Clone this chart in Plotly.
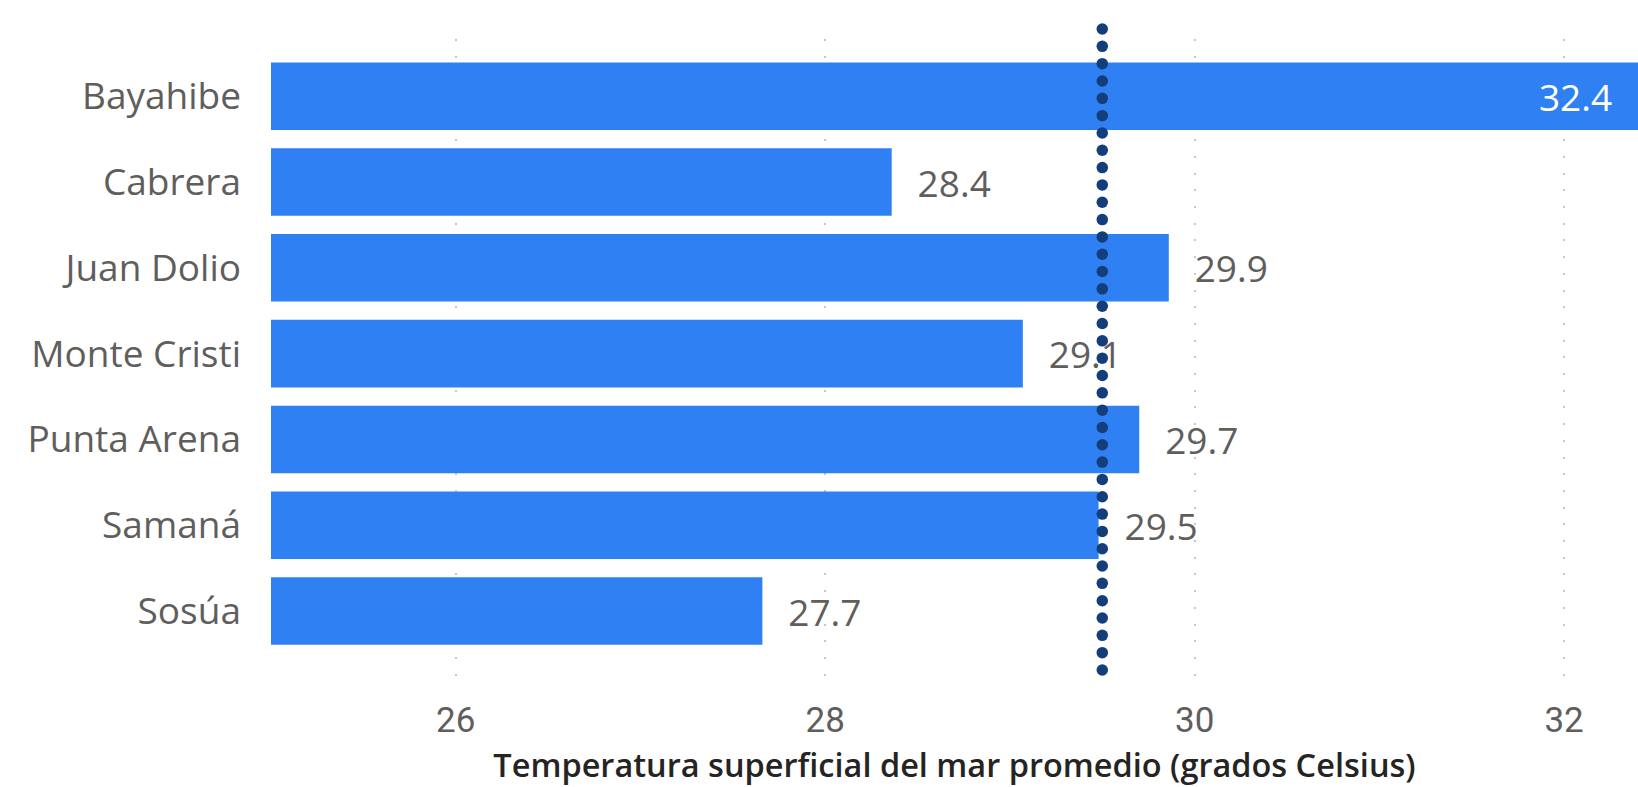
import numpy as np
import plotly.graph_objects as go

# ---- data ----
categories = ["Bayahibe", "Cabrera", "Juan Dolio", "Monte Cristi", "Punta Arena", "Samaná", "Sosúa"]
temps = [32.4, 28.36, 29.86, 29.07, 29.7, 29.48, 27.66]
avg_temp = 29.5
x_tick_vals = [26, 28, 30, 32]
x_title = "Temperatura superficial del mar promedio (grados Celsius)"

BAR = "#2F81F3"
DOT = "#133E7B"
GRAY = "#605E5C"

vmax = max(temps)
positions = ["inside" if v >= vmax else "outside" for v in temps]
templates = [("%{x:.1f}\u00a0\u00a0\u200a") if p == "inside" else ("\u00a0\u00a0\u200a%{x:.1f}")
             for p in positions]

fig = go.Figure()
fig.add_trace(go.Bar(
    x=temps, y=categories, orientation="h",
    marker=dict(color=BAR, line=dict(width=0)),
    texttemplate=templates, textposition=positions,
    insidetextanchor="end",
    insidetextfont=dict(family="Open Sans", size=37, color="white"),
    outsidetextfont=dict(family="Open Sans", size=37, color=GRAY),
    constraintext="none", cliponaxis=False,
    hoverinfo="skip", showlegend=False,
))

# average reference line drawn as round dots (circle shapes in pixel size)
n_dots = 38
dot_y = np.linspace(0.0202, 1.0155, n_dots)
r = 5.75
shapes = [dict(type="circle", xref="x", yref="paper",
               xsizemode="pixel", ysizemode="pixel",
               xanchor=avg_temp, yanchor=float(fy),
               x0=-r, x1=r, y0=-r, y1=r,
               fillcolor=DOT, line=dict(width=0), layer="above")
          for fy in dot_y]

fig.update_layout(
    width=1638, height=787,
    margin=dict(l=271, r=0, t=39, b=104, autoexpand=False),
    paper_bgcolor="white", plot_bgcolor="white",
    bargap=0.213,
    shapes=shapes,
    xaxis=dict(
        range=[25, 32.4], tickvals=x_tick_vals,
        showgrid=True, gridcolor="#C8C6C4", gridwidth=2, griddash="2px,14.7px",
        zeroline=False, showline=False, ticks="",
        tickfont=dict(family="Roboto", size=35, color=GRAY),
        ticklabelstandoff=13, automargin=False,
        title=dict(text=x_title, standoff=30,
                   font=dict(family="Open Sans", size=32.5, color="#252423", weight=600)),
    ),
    yaxis=dict(
        categoryorder="array", categoryarray=categories,
        range=[6.839, -0.667],
        showgrid=False, zeroline=False, showline=False, ticks="",
        tickfont=dict(family="Open Sans", size=37, color=GRAY),
        ticklabelstandoff=29, automargin=False,
    ),
)

fig.write_html(
    "out.html",
    config={"displayModeBar": False},
    post_script="document.body.style.margin='0';document.body.style.overflow='hidden';",
)
